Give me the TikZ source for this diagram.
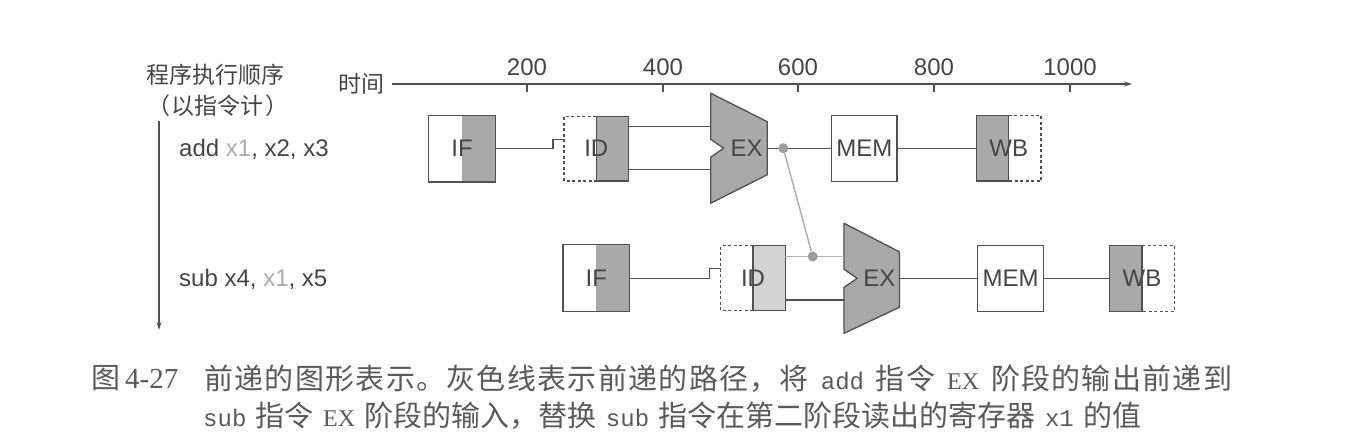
\documentclass[tikz,border=0pt]{standalone}
\usepackage{fontspec}
\setmainfont{Liberation Sans}
\newfontfamily\cjk{Noto Sans CJK SC}
\newfontfamily\cjkwide[LetterSpace=4.5]{Noto Sans CJK SC}
\newfontfamily\capserif{Liberation Serif}
\newfontfamily\capmono{Liberation Mono}
\usetikzlibrary{calc,arrows.meta}
\definecolor{linec}{HTML}{505050}
\definecolor{txtc}{HTML}{454545}
\definecolor{shadec}{HTML}{A9A9A9}
\definecolor{lshadec}{HTML}{D3D3D3}
\definecolor{fwdc}{HTML}{B2B2B2}
\definecolor{dotc}{HTML}{9C9C9C}
\definecolor{x1c}{HTML}{ABABAB}
\definecolor{capc}{HTML}{5A5A5A}
\tikzset{
  stage/.style={inner sep=0pt, fill=white, text=txtc, font=\fontsize{24}{28}\selectfont},
  rsh/.style={path picture={\fill[#1] (path picture bounding box.north) rectangle (path picture bounding box.south east);}},
  lsh/.style={path picture={\fill[#1] (path picture bounding box.north west) rectangle (path picture bounding box.south);}},
  boxline/.style={draw=linec, line width=1.3pt},
  dashbox/.style={draw=linec, line width=1.3pt, dash pattern=on 3pt off 2.5pt},
  wire/.style={draw=linec, line width=1.3pt},
  fwdwire/.style={draw=fwdc, line width=1.3pt},
  fwd/.style={draw=fwdc, line width=1.5pt},
  dotsty/.style={circle, fill=dotc, minimum size=10pt, inner sep=0pt},
  exsty/.style={fill=shadec, draw=linec, line width=1.3pt, line join=round},
  lbl/.style={inner sep=0pt, text=txtc, font=\fontsize{24}{28}\selectfont},
  cjklbl/.style={inner sep=0pt, text=txtc, font=\cjk\fontsize{23}{28}\selectfont},
  capsty/.style={inner sep=0pt, text=capc, font=\cjk\fontsize{29}{34}\selectfont},
  capwide/.style={inner sep=0pt, text=capc, font=\cjkwide\fontsize{29}{34}\selectfont},
  axisline/.style={draw=linec, line width=1.2pt},
}
\newcommand\lat[1]{{\capserif\fontsize{24}{28}\selectfont #1}}
\newcommand\mon[1]{{\capmono\fontsize{24}{28}\selectfont #1}}
\begin{document}
\begin{tikzpicture}[x=1pt,y=-1pt]
\useasboundingbox (0,0) rectangle (1351,446);
\fill[white] (0,0) rectangle (1351,446);

% ---- order labels and arrow
\node[cjklbl] (ord1) at (215.5,75) {程序执行顺序};
\node[cjklbl] (ord2) at (218,106) {（\hspace{2pt}以指令计\hspace{2pt}）};
\coordinate (ordTop) at (159,121);
\coordinate (ordBot) at (159,330);
\draw[axisline, -{Stealth[length=8pt,width=5pt]}] (ordTop) -- (ordBot);

\node[lbl, anchor=base west] (addlbl) at (179,157) {add \textcolor{x1c}{x1}, x2, x3};
\node[lbl, anchor=base west] (sublbl) at (179,287) {sub x4, \textcolor{x1c}{x1}, x5};

% ---- time axis
\node[cjklbl] (timelbl) at (361.5,84) {时间};
\coordinate (tEnd) at (1132,84);
\draw[axisline, -{Stealth[length=8pt,width=5pt]}] ([xshift=7pt]timelbl.east) -- (tEnd);
\foreach \xx/\lab in {527/200, 663/400, 798/600, 934/800, 1070/1000}{
  \coordinate (tk\lab) at (\xx,84);
  \draw[axisline] (tk\lab) -- ++(0,8);
  \node[lbl, anchor=base] (tl\lab) at (\xx,76) {\lab};
}

% ================= add row
\node[stage, minimum width=66pt, minimum height=66pt, rsh=shadec] (aIF) at (462,148.7) {IF};
\draw[boxline] (aIF.north west) rectangle (aIF.south east);

\node[stage, minimum width=64pt, minimum height=64pt, rsh=shadec] (aID) at (596.3,148.7) {ID};
\draw[boxline] (aID.north) rectangle (aID.south east);
\draw[dashbox] (aID.north) -| (aID.south west) -- (aID.south);

\begin{scope}[shift={(739,148.2)}]
  \filldraw[exsty] (-28.3,-55) -- (28.3,-26.5) -- (28.3,26.5) -- (-28.3,55) -- (-28.3,9) -- (-15.5,0) -- (-28.3,-9) -- cycle;
  \coordinate (aEXi1) at (-28.3,-22);
  \coordinate (aEXi2) at (-28.3,21.5);
  \coordinate (aEXo) at (28.3,0);
\end{scope}
\node[stage, fill=none] (aEX) at (746.7,148.2) {EX};

\node[stage, minimum width=65.3pt, minimum height=66pt, draw=linec, line width=1.3pt] (aMEM) at (864.4,148.2) {MEM};

\node[stage, minimum width=64pt, minimum height=65pt, lsh=shadec] (aWB) at (1008.7,148.2) {WB};
\draw[boxline] (aWB.north west) rectangle (aWB.south);
\draw[dashbox] (aWB.north) -| (aWB.south east) -- (aWB.south);

\draw[wire] (aIF.east) -| ($(aID.west)+(-11,-9.5)$) -- ($(aID.west)+(0,-9.5)$);
\draw[wire] (aID.east |- aEXi1) -- (aEXi1);
\draw[wire] (aID.east |- aEXi2) -- (aEXi2);
\draw[wire] (aEXo) -- (aMEM.west |- aEXo);
\draw[wire] (aMEM.east) -- (aWB.west);

% ================= sub row
\node[stage, minimum width=66pt, minimum height=66.5pt, rsh=shadec] (sIF) at (596.3,278.3) {IF};
\draw[boxline] (sIF.north west) rectangle (sIF.south east);

\node[stage, minimum width=64pt, minimum height=64.5pt, rsh=lshadec] (sID) at (753,278.3) {ID};
\draw[boxline] (sID.north) rectangle (sID.south east);
\draw[dashbox] (sID.north) -| (sID.south west) -- (sID.south);

\begin{scope}[shift={(871.7,278.3)}]
  \filldraw[exsty] (-27.7,-55) -- (27.7,-26.5) -- (27.7,29) -- (-27.7,55) -- (-27.7,9) -- (-14.5,0) -- (-27.7,-9) -- cycle;
  \coordinate (sEXi1) at (-27.7,-21.8);
  \coordinate (sEXi2) at (-27.7,21.8);
  \coordinate (sEXo) at (27.7,0);
\end{scope}
\node[stage, fill=none] (sEX) at (879.4,278.3) {EX};

\node[stage, minimum width=65.6pt, minimum height=66pt, draw=linec, line width=1.3pt] (sMEM) at (1010.5,278.3) {MEM};

\node[stage, minimum width=64pt, minimum height=65.7pt, lsh=shadec] (sWB) at (1142,278.3) {WB};
\draw[boxline] (sWB.north west) rectangle (sWB.south);
\draw[dashbox] (sWB.north) -| (sWB.south east) -- (sWB.south);

\draw[wire] (sIF.east) -| ($(sID.west)+(-11,-9.5)$) -- ($(sID.west)+(0,-9.5)$);
\draw[fwdwire] (sID.east |- sEXi1) -- (sEXi1);
\draw[wire] (sID.east |- sEXi2) -- (sEXi2);
\draw[wire] (sEXo) -- (sMEM.west |- sEXo);
\draw[wire] (sMEM.east) -- (sWB.west);

% ---- forwarding
\node[dotsty] (aDot) at (783.3,148.2) {};
\node[dotsty] (sDot) at (812.7,256.5) {};
\draw[fwd] (aDot) -- (sDot);

% ---- caption
\node[capsty, anchor=west] (capno) at (91,378.5) {图\hspace{5pt}{\capserif 4-27}};
\node[capwide, anchor=west] (cap1) at (204,378.5) {\hbox to 1028pt{前递的图形表示。灰色线表示前递的路径，将 \mon{add} 指令 \lat{EX} 阶段的输出前递到}};
\node[capsty, anchor=west] (cap2) at (203,416) {\hbox to 938pt{\mon{sub} 指令 \lat{EX} 阶段的输入，替换 \mon{sub} 指令在第二阶段读出的寄存器 \mon{x1} 的值}};
\end{tikzpicture}
\end{document}
